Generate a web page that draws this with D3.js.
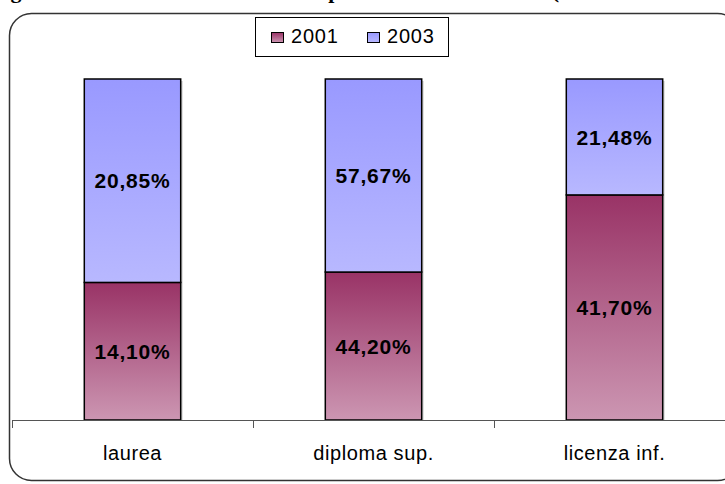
<!DOCTYPE html>
<html>
<head>
<meta charset="utf-8">
<script src="https://d3js.org/d3.v7.min.js"></script>
<style>
  body { margin: 0; background: #fff; }
  svg { display: block; }
  .title { font-family: "Liberation Serif", serif; font-weight: bold; font-size: 22px; fill: #000; }
  .legend text { font-family: "Liberation Sans", Arial, sans-serif; font-size: 20px; letter-spacing: 0.8px; fill: #000; }
  .cat-label { font-family: "Liberation Sans", Arial, sans-serif; font-size: 20px; letter-spacing: 0.6px; fill: #000; }
  .value-label { font-family: "Liberation Sans", Arial, sans-serif; font-size: 21px; letter-spacing: 0.8px; font-weight: bold; fill: #000; }
</style>
</head>
<body>
<div id="chart"></div>
<script>
const categories = ["laurea", "diploma sup.", "licenza inf."];
const series = ["2001", "2003"];
const values2001 = [14.10, 44.20, 41.70];
const values2003 = [20.85, 57.67, 21.48];
const titleText = "Fig. 3 – Titolo di studio dei neo occupati nelle aziende locali (confronto anni 2001 e 2003)";

const width = 725, height = 484;
const svg = d3.select("#chart").append("svg")
  .attr("width", width).attr("height", height);

const defs = svg.append("defs");
const grad = [
  { id: "g2001", top: "#993366", bottom: "#cc96b2" },
  { id: "g2003", top: "#9999ff", bottom: "#b8b8ff" }
];
grad.forEach(g => {
  const lg = defs.append("linearGradient").attr("id", g.id)
    .attr("x1", 0).attr("y1", 0).attr("x2", 0).attr("y2", 1);
  lg.append("stop").attr("offset", "0%").attr("stop-color", g.top);
  lg.append("stop").attr("offset", "100%").attr("stop-color", g.bottom);
});
const fills = { "2001": "url(#g2001)", "2003": "url(#g2003)" };

// title, mostly cut off by the top edge (only descenders show)
svg.append("text").attr("class", "title")
  .attr("x", -9).attr("y", -2)
  .text(titleText);

// chart frame with rounded corners
svg.append("rect")
  .attr("x", 9.5).attr("y", 13.5)
  .attr("width", 730).attr("height", 467)
  .attr("rx", 22).attr("ry", 22)
  .attr("fill", "#fff")
  .attr("stroke", "#333").attr("stroke-width", 1.5);

const margin = { top: 79, left: 12, bottom: 420 };
const x = d3.scaleBand().domain(categories).range([margin.left, margin.left + 241 * 3]).paddingInner(0).paddingOuter(0);
const y = d3.scaleLinear().domain([0, 1]).range([margin.bottom, margin.top]);

const rows = categories.map((c, i) => ({ cat: c, "2001": values2001[i], "2003": values2003[i] }));
const stack = d3.stack().keys(series).offset(d3.stackOffsetExpand);
const layers = stack(rows);

const barW = x.bandwidth() * 0.4;

// light shadow on the right of the bars
svg.append("g").selectAll("rect")
  .data(rows).join("rect")
  .attr("x", d => x(d.cat) + (x.bandwidth() - barW) / 2 + barW)
  .attr("y", y(1) + 2)
  .attr("width", 2)
  .attr("height", y(0) - y(1) - 2)
  .attr("fill", "#d4d4d4");

const layerG = svg.append("g").selectAll("g")
  .data(layers).join("g");

layerG.selectAll("rect")
  .data(d => d.map(p => ({ key: d.key, p })))
  .join("rect")
  .attr("x", d => x(d.p.data.cat) + (x.bandwidth() - barW) / 2)
  .attr("y", d => y(d.p[1]))
  .attr("width", barW)
  .attr("height", d => y(d.p[0]) - y(d.p[1]))
  .attr("fill", d => fills[d.key])
  .attr("stroke", "#000").attr("stroke-width", 1.5);

const fmt = v => d3.format(".2f")(v).replace(".", ",") + "%";
layerG.selectAll("text")
  .data(d => d.map(p => ({ key: d.key, p })))
  .join("text")
  .attr("class", "value-label")
  .attr("x", d => x(d.p.data.cat) + x.bandwidth() / 2)
  .attr("y", d => (y(d.p[0]) + y(d.p[1])) / 2)
  .attr("dy", "0.36em")
  .attr("text-anchor", "middle")
  .text(d => fmt(d.p.data[d.key]));

// x axis
const axis = svg.append("g");
axis.append("line")
  .attr("x1", margin.left).attr("x2", width)
  .attr("y1", y(0) + 0.5).attr("y2", y(0) + 0.5)
  .attr("stroke", "#555");
axis.selectAll(".tick")
  .data(categories).join("line")
  .attr("x1", d => Math.round(x(d)) + 0.5).attr("x2", d => Math.round(x(d)) + 0.5)
  .attr("y1", y(0)).attr("y2", y(0) + 8)
  .attr("stroke", "#555");
axis.selectAll(".cat-label")
  .data(categories).join("text")
  .attr("class", "cat-label")
  .attr("x", d => x(d) + x.bandwidth() / 2)
  .attr("y", y(0) + 40)
  .attr("text-anchor", "middle")
  .text(d => d);

// legend
const legend = svg.append("g").attr("class", "legend");
legend.append("rect")
  .attr("x", 255.5).attr("y", 17.5).attr("width", 193).attr("height", 39)
  .attr("fill", "#fff").attr("stroke", "#000");
const lx = d3.scalePoint().domain(series).range([271, 367]);
const items = legend.selectAll("g.item").data(series).join("g").attr("class", "item")
  .attr("transform", d => `translate(${lx(d)},0)`);
items.append("rect")
  .attr("x", 0.5).attr("y", 32.5).attr("width", 12).attr("height", 10)
  .attr("fill", d => fills[d]).attr("stroke", "#000");
items.append("text")
  .attr("x", 20).attr("y", 43)
  .text(d => d);
</script>
</body>
</html>
